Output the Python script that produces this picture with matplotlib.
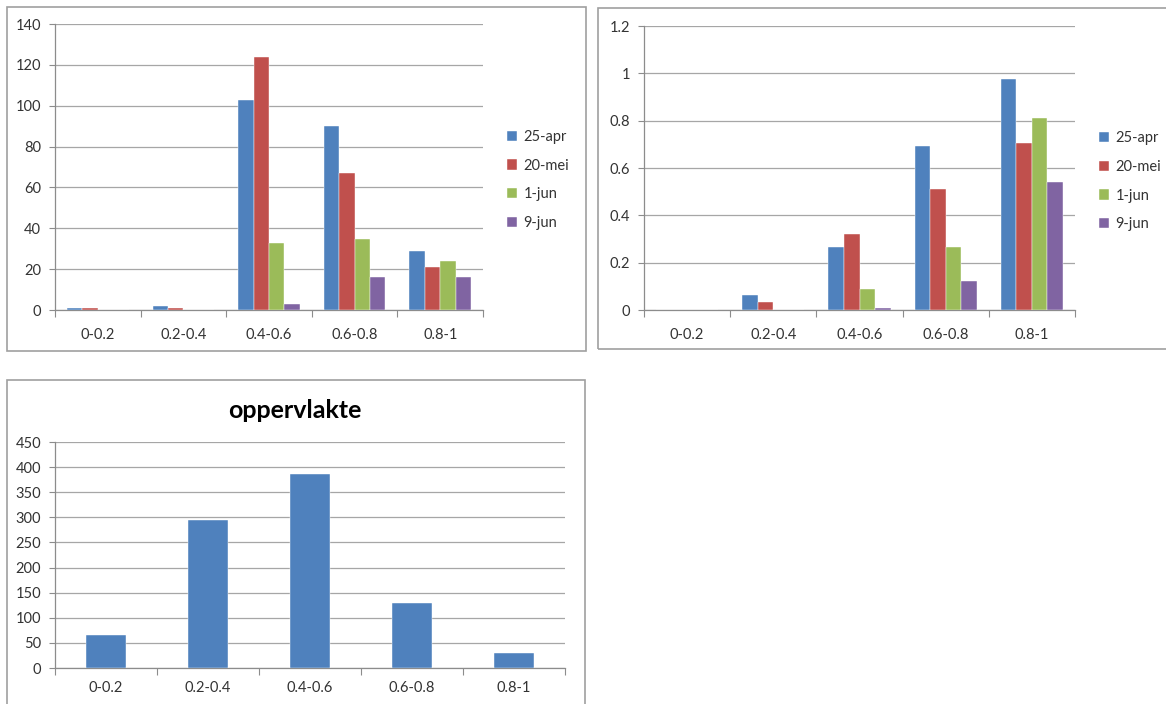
import numpy as np
import matplotlib.pyplot as plt
from matplotlib.patches import Rectangle

# -------------------------------------
# DATA
# -------------------------------------
categories = ["0-0.2", "0.2-0.4", "0.4-0.6", "0.6-0.8", "0.8-1"]
dates = ["25-apr", "20-mei", "1-jun", "9-jun"]

counts = {
    "25-apr": [1, 2, 103, 90, 29],
    "20-mei": [1, 1, 124, 67, 21],
    "1-jun": [0, 0, 33, 35, 24],
    "9-jun": [0, 0, 3, 16, 16],
}

fractions = {
    "25-apr": [0, 0.064, 0.267, 0.693, 0.976],
    "20-mei": [0, 0.032, 0.322, 0.511, 0.707],
    "1-jun": [0, 0, 0.09, 0.267, 0.812],
    "9-jun": [0, 0, 0.007, 0.123, 0.542],
}

oppervlakte = [66, 295, 386, 129, 30]

colors = ["#4F81BD", "#C0504D", "#9BBB59", "#8064A2"]
GRID = "#a6a6a6"
AXIS = "#8c8c8c"
TEXT = "#333333"

plt.rcParams.update({
    "font.family": ["Lato", "DejaVu Sans"],
    "font.size": 10.5,
})


def style_axes(ax, ymax, ystep, fmt):
    ax.set_xlim(0, len(categories))
    ax.set_ylim(0, ymax)
    ax.set_yticks(np.arange(0, ymax + ystep / 2, ystep))
    ax.set_yticklabels([fmt(v) for v in np.arange(0, ymax + ystep / 2, ystep)])
    ax.set_xticks(np.arange(len(categories) + 1))
    ax.set_xticklabels([])
    ax.set_xticks(np.arange(len(categories)) + 0.5, minor=True)
    ax.set_xticklabels(categories, minor=True)
    ax.tick_params(axis="x", which="major", length=5, color=AXIS, direction="out")
    ax.tick_params(axis="x", which="minor", length=0, pad=13, labelcolor=TEXT)
    ax.tick_params(axis="y", length=4, color=AXIS, labelcolor=TEXT, pad=6)
    ax.yaxis.grid(True, color=GRID, lw=0.9)
    ax.set_axisbelow(True)
    for s in ["top", "right"]:
        ax.spines[s].set_visible(False)
    for s in ["left", "bottom"]:
        ax.spines[s].set_color(AXIS)
        ax.spines[s].set_linewidth(0.9)


def grouped(ax, data):
    x = np.arange(len(categories)) + 0.5
    w = 0.18
    for i, d in enumerate(dates):
        ax.bar(x + (i - 1.5) * w, data[d], width=w, color=colors[i],
               label=d, edgecolor="white", linewidth=0.3, zorder=3)


def legend(ax):
    ax.legend(loc="upper left", bbox_to_anchor=(1.025, 0.675), frameon=False,
              handlelength=0.7, handleheight=0.7, handletextpad=0.45,
              labelspacing=1.0, labelcolor=TEXT)


fig = plt.figure(figsize=(11.66, 7.04), dpi=100)
W, H = 1166, 704


def px(l, t, r, b):
    return [l / W, 1 - b / H, (r - l) / W, (b - t) / H]


# panel borders
for (l, t, r, b) in [(7, 7, 586, 351), (598, 8, 1175, 349), (7, 380, 585, 712)]:
    fig.patches.append(Rectangle((l / W, 1 - b / H), (r - l) / W, (b - t) / H,
                                 transform=fig.transFigure, fill=False,
                                 edgecolor="#a0a0a0", lw=1.2))

# panel 1
ax1 = fig.add_axes(px(55, 24, 483, 310))
grouped(ax1, counts)
style_axes(ax1, 140, 20, lambda v: f"{int(v)}")
legend(ax1)

# panel 2
ax2 = fig.add_axes(px(644, 26, 1075, 310))
grouped(ax2, fractions)
style_axes(ax2, 1.2, 0.2, lambda v: "0" if v == 0 else ("1" if abs(v - 1) < 1e-9 else f"{v:.1f}"))
legend(ax2)

# panel 3
ax3 = fig.add_axes(px(55, 442, 565, 668))
ax3.bar(np.arange(len(categories)) + 0.5, oppervlakte, width=0.4,
        color=colors[0], edgecolor="white", linewidth=0.3, zorder=3)
style_axes(ax3, 450, 50, lambda v: f"{int(v)}")
ax3.tick_params(axis="x", which="minor", pad=9)
fig.text(295 / W, 1 - 410 / H, "oppervlakte", ha="center", va="center",
         fontsize=18, fontweight="bold", color="black")

fig.savefig("out.png", dpi=100)
